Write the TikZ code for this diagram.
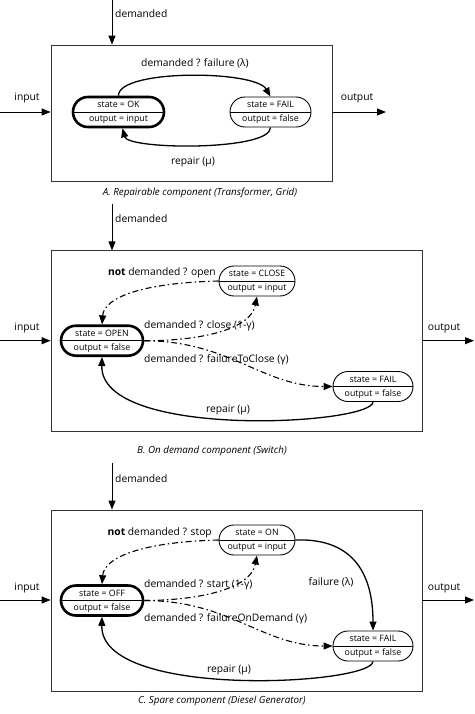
\documentclass[tikz,border=0pt]{standalone}
\usepackage{fontspec}
\setmainfont{Open Sans}
\usetikzlibrary{arrows.meta,calc}
\begin{document}
\begin{tikzpicture}[x=1pt,y=-1pt,
  every node/.style={font=\fontsize{10.3}{12}\selectfont, inner sep=0pt},
  frame/.style={draw=black!80, line width=0.8pt},
  io/.style={line width=0.9pt, -{Triangle[length=9pt,width=7pt]}},
  trans/.style={line width=1.3pt, -{Triangle[length=9pt,width=7pt]}},
  dtrans/.style={line width=1.1pt, dash pattern=on 6pt off 3pt on 1.5pt off 3pt, -{Triangle[length=9pt,width=7pt]}},
  st/.style={draw, line width=0.9pt, rounded corners=15pt, minimum height=30pt},
  init/.style={st, line width=2.6pt},
  sttxt/.style={font=\fontsize{8.8}{10}\selectfont},
  captxt/.style={font=\fontsize{9.8}{11}\itshape},
]
\useasboundingbox (0,0) rectangle (474,714);

% ===== Panel A =====
\node[frame, minimum width=281pt, minimum height=136pt] (boxA) at (191.5,113) {};
\coordinate (dA) at (112,0);
\coordinate (inA) at (0,112);
\coordinate (outA) at (386,112);
\draw[io] (dA) -- (boxA.north -| dA);
\node[anchor=west] (ldA) at (115,14) {demanded};
\draw[io] (inA) -- (boxA.west |- inA);
\node (liA) at (27,98) {input};
\draw[io] (boxA.east |- outA) -- (outA);
\node (loA) at (357,98) {output};

\node[init, minimum width=91pt] (okA) at (118.5,112) {};
\draw[line width=0.9pt] (okA.west) -- (okA.east);
\node[sttxt] (okA1) at (118.5,104.5) {state = OK};
\node[sttxt] (okA2) at (118.5,119.5) {output = input};

\node[st, minimum width=81pt] (failA) at (270.5,112) {};
\draw[line width=0.7pt] (failA.west) -- (failA.east);
\node[sttxt] (failA1) at (270.5,104.5) {state = FAIL};
\node[sttxt] (failA2) at (270.5,119.5) {output = false};

\draw[trans] (okA.north) .. controls (118,69) and (255,70) .. (failA.north);
\node (lfA) at (195,63) {demanded ? failure (λ)};
\draw[trans] (failA.south) .. controls (271,151) and (128,150) .. ($(okA.south)+(4,0)$);
\node (lrA) at (193,162) {repair (μ)};
\node[captxt] (capA) at (200,193) {A. Repairable component (Transformer, Grid)};

% ===== Panel B =====
\node[frame, minimum width=371pt, minimum height=181pt] (boxB) at (236.5,341.3) {};
\coordinate (dB) at (112,204);
\coordinate (inB) at (0,340.7);
\coordinate (outB) at (474,340.7);
\draw[io] (dB) -- (boxB.north -| dB);
\node[anchor=west] (ldB) at (115,219) {demanded};
\draw[io] (inB) -- (boxB.west |- inB);
\node (liB) at (27,328) {input};
\draw[io] (boxB.east |- outB) -- (outB);
\node (loB) at (444,328) {output};

\node[init, minimum width=82pt] (openB) at (102,340.7) {};
\draw[line width=0.9pt] (openB.west) -- (openB.east);
\node[sttxt] (openB1) at (102,333.2) {state = OPEN};
\node[sttxt] (openB2) at (102,348.4) {output = false};

\node[st, minimum width=76pt] (closeB) at (257,281) {};
\draw[line width=0.7pt] (closeB.west) -- (closeB.east);
\node[sttxt] (closeB1) at (257,273.5) {state = CLOSE};
\node[sttxt] (closeB2) at (257,288.5) {output = input};

\node[st, minimum width=80pt] (failB) at (373,386.5) {};
\draw[line width=0.7pt] (failB.west) -- (failB.east);
\node[sttxt] (failB1) at (373,379) {state = FAIL};
\node[sttxt] (failB2) at (373,394) {output = false};

\draw[dtrans] (closeB.west) .. controls (140,283) and (104,298) .. (openB.north);
\node[anchor=east] (lnB) at (216,273) {\textbf{not} demanded ? open};
\draw[dtrans] (openB.east) .. controls (192,341) and (250,332) .. (closeB.south);
\node[anchor=west] (lcB) at (144,326) {demanded ? close (1-γ)};
\draw[dtrans] (openB.east) .. controls (230,341) and (262,386.5) .. (failB.west);
\node[anchor=west] (lfB) at (144,360) {demanded ? failureToClose (γ)};
\draw[trans] (failB.south) .. controls (372,425) and (100,440) .. (openB.south);
\node (lrB) at (228,410) {repair (μ)};
\node[captxt] (capB) at (212,451) {B. On demand component (Switch)};

% ===== Panel C =====
\node[frame, minimum width=371pt, minimum height=181pt] (boxC) at (236.5,600.5) {};
\coordinate (dC) at (112,463);
\coordinate (inC) at (0,600);
\coordinate (outC) at (474,600);
\draw[io] (dC) -- (boxC.north -| dC);
\node[anchor=west] (ldC) at (115,479) {demanded};
\draw[io] (inC) -- (boxC.west |- inC);
\node (liC) at (27,588) {input};
\draw[io] (boxC.east |- outC) -- (outC);
\node (loC) at (444,588) {output};

\node[init, minimum width=82pt] (offC) at (102,600.5) {};
\draw[line width=0.9pt] (offC.west) -- (offC.east);
\node[sttxt] (offC1) at (102,593) {state = OFF};
\node[sttxt] (offC2) at (102,608.2) {output = false};

\node[st, minimum width=76pt] (onC) at (257,540) {};
\draw[line width=0.7pt] (onC.west) -- (onC.east);
\node[sttxt] (onC1) at (257,532.5) {state = ON};
\node[sttxt] (onC2) at (257,547.5) {output = input};

\node[st, minimum width=80pt] (failC) at (373,646) {};
\draw[line width=0.7pt] (failC.west) -- (failC.east);
\node[sttxt] (failC1) at (373,638.5) {state = FAIL};
\node[sttxt] (failC2) at (373,653.5) {output = false};

\draw[dtrans] (onC.west) .. controls (140,542) and (104,558) .. (offC.north);
\node[anchor=east] (lnC) at (212,533) {\textbf{not} demanded ? stop};
\draw[dtrans] (offC.east) .. controls (192,600.5) and (250,591) .. (onC.south);
\node[anchor=west] (lsC) at (144,585) {demanded ? start (1-γ)};
\draw[dtrans] (offC.east) .. controls (230,600.5) and (262,646) .. (failC.west);
\node[anchor=west] (lfdC) at (144,619) {demanded ? failureOnDemand (γ)};
\draw[trans] (onC.east) .. controls (350,538) and (373,570) .. (failC.north);
\node (lfC) at (331,582) {failure (λ)};
\draw[trans] (failC.south) .. controls (372,685) and (100,700) .. (offC.south);
\node (lrC) at (229,670) {repair (μ)};
\node[captxt] (capC) at (222,701) {C. Spare component (Diesel Generator)};
\end{tikzpicture}
\end{document}
